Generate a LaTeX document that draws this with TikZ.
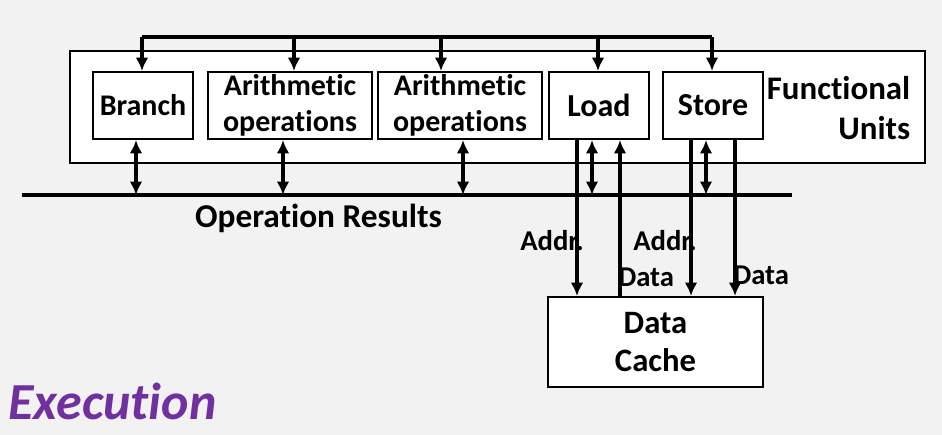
\documentclass[tikz,border=0pt]{standalone}
\usepackage{fontspec}
\setmainfont{Carlito}[Ligatures={NoCommon,NoContextual}]
\usetikzlibrary{arrows.meta}
\definecolor{bggray}{HTML}{F2F2F2}
\definecolor{titlepurple}{HTML}{7030A0}
\tikzset{
  unitbox/.style={rectangle,draw,line width=1.5pt,fill=white,inner sep=0pt,
    minimum height=50.25pt,align=center,font=\fontsize{22.5}{27}\selectfont\bfseries},
  link/.style={line width=2.4pt,-{Latex[length=10pt,width=9.5pt]}},
  twoway/.style={line width=2.4pt,{Latex[length=10pt,width=9.5pt]}-{Latex[length=10pt,width=9.5pt]}},
  plain/.style={line width=2.4pt},
  lbl/.style={inner sep=0pt,font=\fontsize{21.5}{24}\selectfont\bfseries}
}

\begin{document}
\begin{tikzpicture}[x=0.75pt,y=-0.75pt]
    % Page
    \fill[bggray] (0,0) rectangle (942,435);
    \useasboundingbox (0,0) rectangle (942,435);

    % Functional units
    \node[rectangle,draw,line width=1.5pt,fill=white,minimum width=641.25pt,minimum height=84pt] (FU) at (497.5,107) {};
    \node[anchor=east,align=right,inner sep=0pt,font=\fontsize{24.7}{30}\selectfont\bfseries] (FUlabel) at (910.5,108) {Functional\\Units};

    \node[unitbox,minimum width=75pt] (Branch) at (143,105.5) {Branch};
    \node[unitbox,minimum width=123pt] (Arith1) at (290,105.5) {Arithmetic\\operations};
    \node[unitbox,minimum width=123pt] (Arith2) at (460,105.5) {Arithmetic\\operations};
    \node[unitbox,minimum width=75pt,font=\fontsize{24}{28}\selectfont\bfseries] (Load) at (599,105.5) {Load};
    \node[unitbox,minimum width=75pt,font=\fontsize{24}{28}\selectfont\bfseries] (Store) at (713,105.5) {Store};

    % Issue bus on top
    \coordinate (topL) at (142,37);
    \coordinate (topR) at (712,37);
    \draw[plain] (topL) -- (topR);
    \draw[link] ([shift={(-1,0)}]Branch.north |- topL) -- ([shift={(-1,0)}]Branch.north);
    \draw[link] ([shift={(4,0)}]Arith1.north |- topL) -- ([shift={(4,0)}]Arith1.north);
    \draw[link] ([shift={(-19,0)}]Arith2.north |- topL) -- ([shift={(-19,0)}]Arith2.north);
    \draw[link] ([shift={(-1,0)}]Load.north |- topL) -- ([shift={(-1,0)}]Load.north);
    \draw[link] ([shift={(-1,0)}]Store.north |- topL) -- ([shift={(-1,0)}]Store.north);

    % Result bus
    \coordinate (busL) at (22,195);
    \coordinate (busR) at (792,195);
    \draw[line width=3pt] (busL) -- (busR);
    \node[anchor=base,inner sep=0pt,font=\fontsize{25}{28}\selectfont\bfseries] (busLabel) at (318.5,227) {Operation Results};

    \draw[twoway] ([shift={(-7,0)}]Branch.south) -- ([shift={(-7,0)}]Branch.south |- busL);
    \draw[twoway] ([shift={(-7,0)}]Arith1.south) -- ([shift={(-7,0)}]Arith1.south |- busL);
    \draw[twoway] ([shift={(3,0)}]Arith2.south) -- ([shift={(3,0)}]Arith2.south |- busL);
    \draw[twoway] ([shift={(-7,0)}]Load.south) -- ([shift={(-7,0)}]Load.south |- busL);
    \draw[twoway] ([shift={(-7,0)}]Store.south) -- ([shift={(-7,0)}]Store.south |- busL);

    % Data cache
    \node[unitbox,minimum width=161.25pt,minimum height=67.5pt,font=\fontsize{24.5}{29}\selectfont\bfseries] (Cache) at (655.5,342) {Data\\Cache};

    \draw[link] ([shift={(-22,0)}]Load.south) -- ([shift={(-22,0)}]Load.south |- Cache.north);
    \draw[link] ([shift={(21,0)}]Load.south |- Cache.north) -- ([shift={(21,0)}]Load.south);
    \draw[link] ([shift={(-22,0)}]Store.south) -- ([shift={(-22,0)}]Store.south |- Cache.north);
    \draw[link] ([shift={(22,0)}]Store.south) -- ([shift={(22,0)}]Store.south |- Cache.north);

    \node[lbl,anchor=east] (addrLoad) at (584,241) {Addr.};
    \node[lbl,anchor=west] (dataLoad) at (618,277) {Data};
    \node[lbl,anchor=west] (addrStore) at (633,241) {Addr.};
    \node[lbl,anchor=west] (dataStore) at (733,275) {Data};

    % Title
    \node[anchor=base west,inner sep=0pt,text=titlepurple,font=\fontsize{39}{42}\selectfont\bfseries\itshape] (title) at (8,419) {Execution};
\end{tikzpicture}
\end{document}
